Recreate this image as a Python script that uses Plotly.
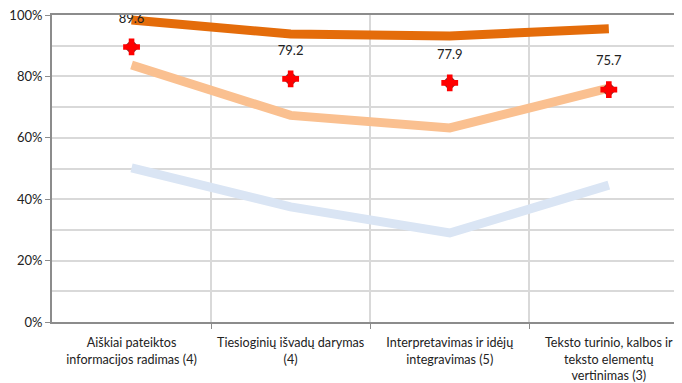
import plotly.graph_objects as go

categories = [
    "Aiškiai pateiktos<br>informacijos radimas (4)",
    "Tiesioginių išvadų darymas<br>(4)",
    "Interpretavimas ir idėjų<br>integravimas (5)",
    "Teksto turinio, kalbos ir<br>teksto elementų<br>vertinimas (3)",
]
series_high = [0.984, 0.938, 0.932, 0.955]
series_mid = [0.837, 0.673, 0.632, 0.762]
series_low = [0.502, 0.375, 0.29, 0.446]
points = [0.896, 0.792, 0.779, 0.757]
point_labels = ["89.6", "79.2", "77.9", "75.7"]

x = list(range(len(categories)))

fig = go.Figure()
fig.add_trace(go.Scatter(x=x, y=series_low, mode="lines",
                         line=dict(color="#DAE5F4", width=9), hoverinfo="skip"))
fig.add_trace(go.Scatter(x=x, y=series_mid, mode="lines",
                         line=dict(color="#FAC090", width=9), hoverinfo="skip"))
fig.add_trace(go.Scatter(x=x, y=series_high, mode="lines",
                         line=dict(color="#E46C0A", width=9), hoverinfo="skip"))
fig.add_trace(go.Scatter(x=x, y=points, mode="markers",
                         marker=dict(symbol="diamond", size=12, color="#8B2A2A"),
                         hoverinfo="skip"))
fig.add_trace(go.Scatter(x=x, y=points, mode="markers",
                         marker=dict(symbol="cross", size=14, color="#FF0000",
                                     line=dict(width=0)),
                         hoverinfo="skip"))
fig.add_trace(go.Scatter(x=x, y=points, mode="markers+text", text=point_labels,
                         textposition="top center", cliponaxis=False,
                         marker=dict(size=32, opacity=0),
                         textfont=dict(size=13, color="#222222"),
                         hoverinfo="skip"))

# the page body has an 8px margin, so the margins compensate for it
fig.update_layout(
    width=682, height=383,
    margin=dict(l=44, r=8, t=7, b=69),
    paper_bgcolor="white", plot_bgcolor="white",
    showlegend=False,
    font=dict(family="Lato, 'Open Sans', sans-serif", size=12, color="#222222"),
)
fig.update_xaxes(
    range=[-0.5, 3.46],
    automargin=False,
    tickmode="array", tickvals=x, ticktext=categories,
    ticklabeloverflow="allow", ticklabelstandoff=8,
    showgrid=False, ticks="",
    showline=True, linecolor="#8C8C8C", linewidth=2, mirror=True,
    minor=dict(tickmode="array", tickvals=[0.5, 1.5, 2.5, 3.5],
               showgrid=True, gridcolor="#D9D9D9", gridwidth=1.5,
               ticks="outside", ticklen=5, tickcolor="#8C8C8C"),
    tickfont=dict(size=12.6),
    zeroline=False,
)
fig.update_yaxes(
    range=[0, 1], dtick=0.2, tickformat=".0%",
    automargin=False,
    ticklabeloverflow="allow",
    showgrid=True, gridcolor="#D9D9D9", gridwidth=1.5,
    showline=True, linecolor="#8C8C8C", linewidth=2,
    ticks="outside", ticklen=5, tickcolor="#8C8C8C",
    minor=dict(dtick=0.1, showgrid=True, gridcolor="#D9D9D9", gridwidth=1.5),
    zeroline=False,
    tickfont=dict(size=13),
)

fig.write_html("out.html")
